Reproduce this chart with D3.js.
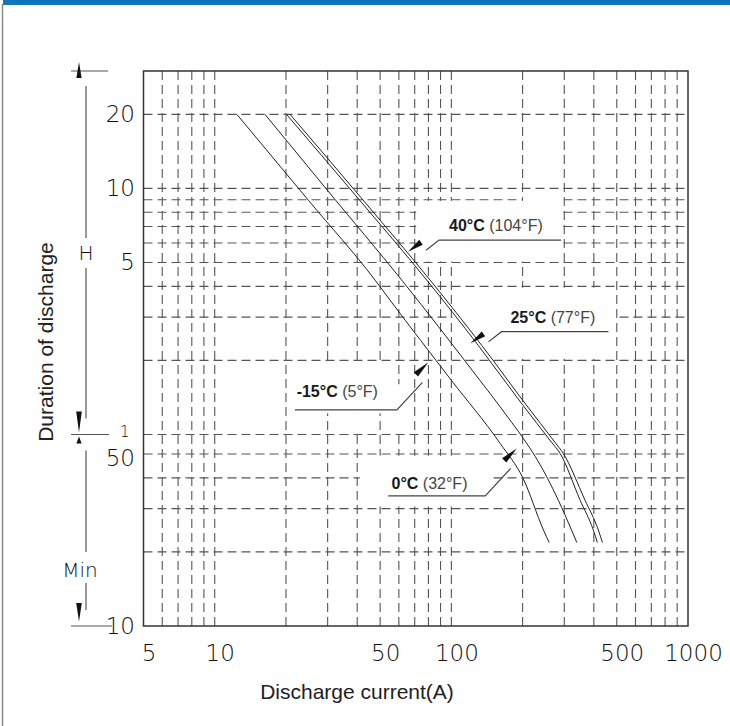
<!DOCTYPE html>
<html>
<head>
<meta charset="utf-8" />
<title>Discharge characteristics</title>
<script src="https://cdn.jsdelivr.net/npm/d3@7"></script>
<style>
  body { margin: 0; background: #fff; }
  svg { display: block; }
  .cad { font-family: "DejaVu Sans", sans-serif; font-weight: 200; fill: #111; }
  .sans { font-family: "Liberation Sans", Arial, sans-serif; }
</style>
</head>
<body>
<script>
// discharge current (A) against duration (h)
const curM15 = [12.4, 25, 47.6, 55, 100, 160.7, 201, 245, 259];
const hrsM15 = [20, 8.9, 4.24, 3.52, 1.66, 0.92, 0.663, 0.409, 0.364];
const cur0 = [16.3, 30, 61.7, 132, 160.7, 253, 283, 322, 339];
const hrs0 = [20, 9.8, 4.24, 1.66, 1.296, 0.673, 0.541, 0.409, 0.364];
const cur25 = [20.1, 40, 78.7, 130, 200, 265, 288, 350, 398, 414];
const hrs25 = [20, 9.2, 4.24, 2.3, 1.32, 0.93, 0.838, 0.541, 0.409, 0.364];
const cur40 = [20.8, 41.4, 81.3, 134.5, 207, 274, 297, 367, 418, 435];
const hrs40 = [20, 9.2, 4.24, 2.3, 1.32, 0.93, 0.838, 0.541, 0.409, 0.364];

// grid and ticks
const xGrid = [6, 7, 8, 9, 10, 20, 30, 40, 50, 60, 70, 80, 90, 100, 200, 300, 400, 500, 600, 700, 800, 900];
const yGridHours = [20, 10, 9, 8, 7, 6, 5, 4, 3, 2, 1];
const yGridMinutes = [50, 40, 30, 20];
const xTicks = [5, 10, 50, 100, 500, 1000];
const yTickHours = [20, 10, 5, 1];
const yTickMinutes = [50, 10];

// curve labels: name, fahrenheit, point the arrow touches (A, h)
const labelNames = ["40°C", "25°C", "-15°C", "0°C"];
const labelSubs = ["(104°F)", "(77°F)", "(5°F)", "(32°F)"];
const labelAt = [[65.6, 5.53], [120.4, 2.346], [80, 1.964], [188.9, 0.878]];

const W = 730, H = 726;
const pL = 143.5, pR = 688, pT = 71, pB = 626;

const x = d3.scaleLog().domain([5, 1000]).range([pL, pR]);
const y = d3.scaleLog().domain([1 / 6, 30]).range([pB, pT]);

const svg = d3.select("body").append("svg")
  .attr("width", W)
  .attr("height", H);

svg.append("rect").attr("width", W).attr("height", H).attr("fill", "#fff");

// page frame
svg.append("rect").attr("x", 3).attr("y", 0).attr("width", W - 3).attr("height", 5).attr("fill", "#1174bd");
svg.append("line").attr("x1", 2.5).attr("x2", 2.5).attr("y1", 4).attr("y2", H)
  .attr("stroke", "#8a8a8a").attr("stroke-width", 1.5);

// dashed grid
const grid = svg.append("g")
  .attr("stroke", "#555")
  .attr("stroke-width", 1.1)
  .attr("stroke-dasharray", "9,5");

grid.selectAll("line.v")
  .data(xGrid)
  .enter().append("line")
  .attr("class", "v")
  .attr("x1", d => x(d)).attr("x2", d => x(d))
  .attr("y1", pT).attr("y2", pB);

const yGrid = yGridHours.concat(yGridMinutes.map(m => m / 60));
grid.selectAll("line.h")
  .data(yGrid)
  .enter().append("line")
  .attr("class", "h")
  .attr("x1", pL).attr("x2", pR)
  .attr("y1", d => y(d)).attr("y2", d => y(d));

// white boxes behind the labels (A0, A1, h0, h1)
const masks = [
  [71, 295, 5.05, 8.9],
  [201, 297, 8.85, 9.9],
  [101, 495, 2.03, 3.95],
  [29, 55, 1.22, 1.98],
  [38, 42, 1.01, 1.22],
  [55, 67, 1.01, 1.6],
  [41, 150, 0.51, 0.82]
];
svg.append("g").selectAll("rect")
  .data(masks)
  .enter().append("rect")
  .attr("x", d => x(d[0]))
  .attr("y", d => y(d[3]))
  .attr("width", d => x(d[1]) - x(d[0]))
  .attr("height", d => y(d[2]) - y(d[3]))
  .attr("fill", "#fff");

// plot border
svg.append("rect")
  .attr("x", pL).attr("y", pT)
  .attr("width", pR - pL).attr("height", pB - pT)
  .attr("fill", "none").attr("stroke", "#333").attr("stroke-width", 1.5);

// curves
const series = [
  d3.zip(curM15, hrsM15),
  d3.zip(cur0, hrs0),
  d3.zip(cur25, hrs25),
  d3.zip(cur40, hrs40)
];
const line = d3.line()
  .x(d => x(d[0]))
  .y(d => y(d[1]))
  .curve(d3.curveMonotoneX);

svg.append("g").selectAll("path")
  .data(series)
  .enter().append("path")
  .attr("d", line)
  .attr("fill", "none")
  .attr("stroke", "#222")
  .attr("stroke-width", 1);

// axes
const xAxis = d3.axisBottom(x)
  .tickValues(xTicks)
  .tickFormat(d3.format("d"))
  .tickSize(0)
  .tickPadding(19);
const gx = svg.append("g")
  .attr("transform", "translate(0," + pB + ")")
  .call(xAxis);
gx.select(".domain").remove();
gx.selectAll("text").attr("dx", 5).attr("class", "cad").style("font-size", "23px");

const yTickValues = yTickHours.concat(yTickMinutes.map(m => m / 60));
const yTickText = yTickHours.concat(yTickMinutes).map(String);
const yAxis = d3.axisLeft(y)
  .tickValues(yTickValues)
  .tickFormat((d, i) => yTickText[i])
  .tickSize(0)
  .tickPadding(8.5);
const gy = svg.append("g")
  .attr("transform", "translate(" + pL + ",0)")
  .call(yAxis);
gy.select(".domain").remove();
gy.selectAll("text").attr("class", "cad").style("font-size", "23px");
// the hour "1" is squeezed in small above the minute "50"
gy.selectAll("text").filter(d => d === 1)
  .style("font-size", "15px").attr("y", -3).attr("x", -14);
gy.selectAll("text").filter(d => Math.abs(d - 50 / 60) < 1e-9).attr("y", 4);

// axis titles
svg.append("text")
  .attr("class", "sans")
  .attr("x", 357).attr("y", 699)
  .attr("text-anchor", "middle")
  .style("font-size", "21px")
  .attr("fill", "#222")
  .text("Discharge current(A)");

svg.append("text")
  .attr("class", "sans")
  .attr("transform", "translate(53,342) rotate(-90)")
  .attr("text-anchor", "middle")
  .style("font-size", "21px")
  .attr("fill", "#222")
  .text("Duration of discharge");

// H / Min dimension marks on the left
const dim = svg.append("g").attr("stroke", "#555").attr("stroke-width", 1.2);
const yTop = y(30), yHour = y(1), yBot = y(1 / 6);
[[yTop, 108], [yHour, 109], [yBot, 112]].forEach(d => {
  dim.append("line").attr("x1", 71).attr("x2", d[1]).attr("y1", d[0]).attr("y2", d[0]);
});
[[yTop + 15, 238], [268, yHour - 16], [yHour + 16, 552], [583, yBot - 16]].forEach(d => {
  dim.append("line").attr("x1", 86).attr("x2", 86).attr("y1", d[0]).attr("y2", d[1]);
});

const tri = (tx, ty, by, hw) => [[tx, ty], [tx - hw, by], [tx + hw, by]].join(" ");
const arrows = svg.append("g").attr("fill", "#111");
arrows.append("polygon").attr("points", tri(79, yTop - 9, yTop + 7, 2.6));
arrows.append("polygon").attr("points", tri(79, yHour - 2, yHour - 23, 2.8));
arrows.append("polygon").attr("points", tri(79, yHour + 2, yHour + 9, 2.6));
arrows.append("polygon").attr("points", tri(79, yBot - 4.5, yBot - 23, 2.8));

svg.append("text").attr("class", "cad").attr("x", 86).attr("y", (yTop + yHour) / 2 + 7.5)
  .attr("text-anchor", "middle").style("font-size", "20px").text("H");
svg.append("text").attr("class", "cad").attr("x", 80).attr("y", 576.5)
  .attr("text-anchor", "middle").style("font-size", "20px").text("Min");

// curve labels with leaders and arrowheads
const layout = [
  { side: 1, len: 122, tx: 41, ty: -20.3 },
  { side: 1, len: 107, tx: 40, ty: -20.6 },
  { side: -1, len: 102, tx: 1.7, ty: 35 },
  { side: -1, len: 97, tx: 3.3, ty: 41 }
];

const ann = svg.append("g");
labelAt.forEach((p, i) => {
  const L = layout[i];
  const px = x(p[0]), py = y(p[1]);
  const g = ann.append("g").attr("transform", "translate(" + px + "," + py + ")");
  let base, l0, l1, u1;
  if (L.side > 0) {
    base = [13, -9.5]; l0 = [18, -1.5]; l1 = [31, -11.7]; u1 = [31 + L.len, -11.7];
  } else {
    base = [-12.5, 12]; l0 = [-6, 20]; l1 = [-31.5, 47.5]; u1 = [-31.5 - L.len, 47.5];
  }
  const len = Math.hypot(base[0], base[1]);
  const nx = -base[1] / len * 3, ny = base[0] / len * 3;
  g.append("polygon")
    .attr("points", [[0, 0], [base[0] + nx, base[1] + ny], [base[0] - nx, base[1] - ny]].join(" "))
    .attr("fill", "#111");
  g.append("polyline")
    .attr("points", [l0, l1, u1].join(" "))
    .attr("fill", "none").attr("stroke", "#444").attr("stroke-width", 1.2);
  const tx = L.side > 0 ? L.tx : u1[0] + L.tx;
  const t = g.append("text")
    .attr("class", "sans")
    .attr("x", tx).attr("y", L.ty)
    .style("font-size", "16px");
  t.append("tspan").attr("font-weight", "bold").attr("fill", "#1a1a1a").text(labelNames[i]);
  t.append("tspan").attr("fill", "#444").text(" " + labelSubs[i]);
});
</script>
</body>
</html>
